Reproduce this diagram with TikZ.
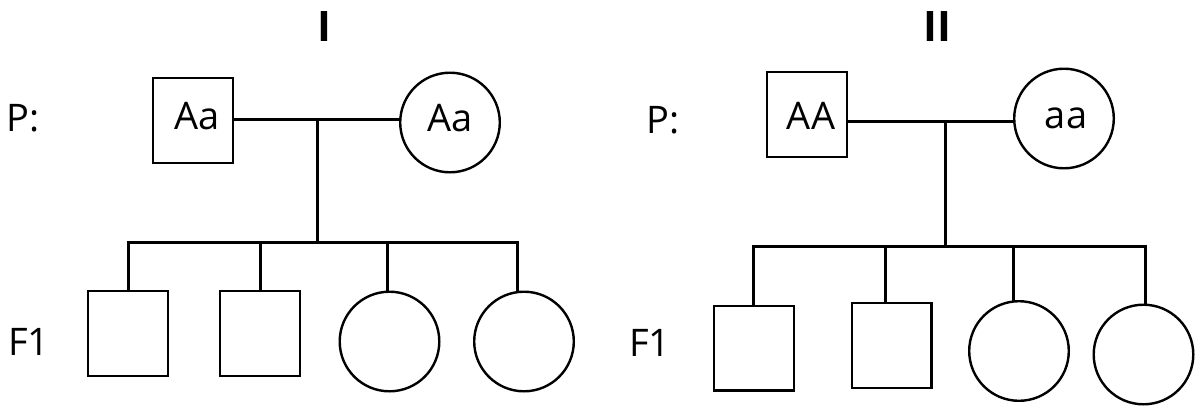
\documentclass[tikz,border=0pt]{standalone}
\usepackage{fontspec}
\setmainfont{Open Sans}
\begin{document}
\begin{tikzpicture}[x=1pt,y=-1pt,
  shp/.style={draw=black, line width=2.4pt, inner sep=0pt, outer sep=0pt, fill=none},
  male/.style={shp, rectangle, minimum width=79.6pt, minimum height=84.6pt},
  female/.style={shp, circle, minimum size=99.6pt},
  conn/.style={draw=black, line width=3pt},
  txt/.style={font=\fontsize{38}{42}\selectfont, inner sep=0pt},
  ttl/.style={font=\fontsize{42}{46}\selectfont\bfseries, inner sep=0pt}]
\useasboundingbox (0,0) rectangle (1197,405);

% ---------- Panel I ----------
\node[ttl] (t1) at (324.5,27) {I};
\node[txt, anchor=west] (p1) at (6,118) {P:};
\node[txt, anchor=west] (f1) at (8,342) {F1};

\node[male] (m1) at (193,120.5) {};
\node[txt] (m1t) at (197,116) {Aa};
\node[female] (w1) at (450,122.5) {};
\node[txt] (w1t) at (450,118) {Aa};

\coordinate (mid1) at (317,119);
\coordinate (sib1) at (317,242);
\coordinate (d11) at (128,242);
\coordinate (d12) at (260,242);
\coordinate (d13) at (387,242);
\coordinate (d14) at (517,242);

\node[male] (k11) at (128,333.5) {};
\node[male] (k12) at (260,333.5) {};
\node[female] (k13) at (389.5,341.5) {};
\node[female] (k14) at (524,341.5) {};

\draw[conn] (mid1 -| m1.east) -- (mid1 -| w1.west);
\draw[conn] (mid1) -- (sib1);
\draw[conn] (k11.north) -- (d11) -- (d14) -- (d14 |- k14.north);
\draw[conn] (d12) -- (k12.north);
\draw[conn] (d13) -- (d13 |- k13.north);

% ---------- Panel II ----------
\node[ttl] (t2) at (937.5,27) {II};
\node[txt, anchor=west] (p2) at (646,120) {P:};
\node[txt, anchor=west] (f2) at (629,343) {F1};

\node[male] (m2) at (807,114.5) {};
\node[txt] (m2t) at (811,116) {AA};
\node[female] (w2) at (1064,118.5) {};
\node[txt] (w2t) at (1066,118) {aa};

\coordinate (mid2) at (945,121);
\coordinate (sib2) at (945,246);
\coordinate (d21) at (753,246);
\coordinate (d22) at (885,246);
\coordinate (d23) at (1013,246);
\coordinate (d24) at (1145,246);

\node[male] (k21) at (754,348) {};
\node[male] (k22) at (891.5,345.5) {};
\node[female] (k23) at (1019,351) {};
\node[female] (k24) at (1143.5,354.5) {};

\draw[conn] (mid2 -| m2.east) -- (mid2 -| w2.west);
\draw[conn] (mid2) -- (sib2);
\draw[conn] (d21 |- k21.north) -- (d21) -- (d24) -- (d24 |- k24.north);
\draw[conn] (d22) -- (d22 |- k22.north);
\draw[conn] (d23) -- (d23 |- k23.north);
\end{tikzpicture}
\end{document}
